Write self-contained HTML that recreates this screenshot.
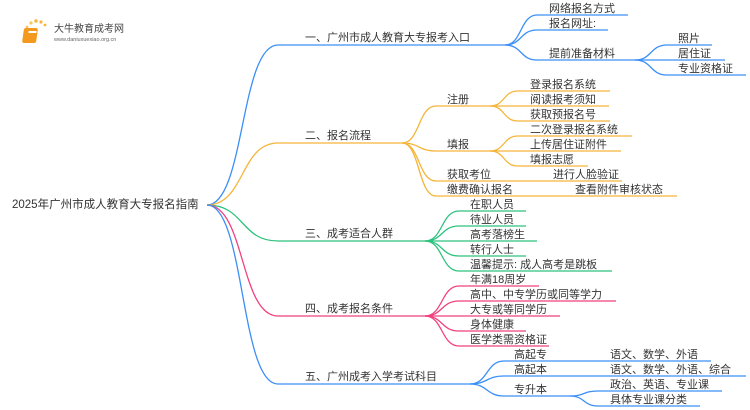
<!DOCTYPE html>
<html><head><meta charset="utf-8"><style>
html,body{margin:0;padding:0;background:#fff;}
svg{display:block;}
text{font-family:"Liberation Sans","Noto Sans CJK SC",sans-serif;font-size:11px;fill:#333;}
path{fill:none;stroke-width:1.3;}
</style></head><body>
<svg width="750" height="410" viewBox="0 0 750 410" xmlns="http://www.w3.org/2000/svg">
<!-- logo -->
<g>
<circle cx="25" cy="33" r="1.2" fill="#f7c75a"/><circle cx="27" cy="27" r="1.4" fill="#f7c75a"/><circle cx="31" cy="23" r="1.6" fill="#f7c75a"/><circle cx="36" cy="21" r="1.7" fill="#f5b53a"/><circle cx="41" cy="22" r="1.6" fill="#f5b53a"/><circle cx="45" cy="25" r="1.4" fill="#f5b53a"/>
<rect x="28" y="28" width="14" height="15" rx="2" fill="#f39a1e" transform="skewX(-8)"/>
<rect x="33" y="31" width="8" height="2" fill="#fff" transform="skewX(-8)"/>
<text x="54" y="32" style="font-size:10px;fill:#444">大牛教育成考网</text>
<text x="54" y="41" style="font-size:5.5px;fill:#666">www.daniuxuexiao.org.cn</text>
</g>
<text x="12" y="208" style="font-size:11.5px">2025年广州市成人教育大专报名指南</text>
<!-- level1 -->
<path stroke="#3a8ff7" d="M207 205 C245 205,240 45,278 45 H505"/>
<path stroke="#f5b53a" d="M207 205 C245 205,240 143,278 143 H402"/>
<path stroke="#2ec27e" d="M207 205 C245 205,240 241,278 241 H425"/>
<path stroke="#f0417f" d="M207 205 C245 205,240 316,278 316 H425"/>
<path stroke="#3a8ff7" d="M207 205 C245 205,240 384,278 384 H470"/>
<text x="305" y="41">一、广州市成人教育大专报考入口</text>
<text x="305" y="139">二、报名流程</text>
<text x="305" y="237">三、成考适合人群</text>
<text x="305" y="312">四、成考报名条件</text>
<text x="305" y="380">五、广州成考入学考试科目</text>
<!-- group1 -->
<g stroke="#3a8ff7">
<path d="M505 45 C522 45,520 15,537 15 H628"/>
<path d="M505 45 C522 45,520 30,537 30 H608"/>
<path d="M505 45 C522 45,520 60,537 60 H635"/>
<path d="M635 60 C652 60,650 45,667 45 H712"/>
<path d="M635 60 C652 60,650 60,667 60 H725"/>
<path d="M635 60 C652 60,650 75,667 75 H746"/>
</g>
<text x="549" y="12">网络报名方式</text>
<text x="549" y="27">报名网址:</text>
<text x="549" y="57">提前准备材料</text>
<text x="678" y="42">照片</text>
<text x="678" y="57">居住证</text>
<text x="678" y="72">专业资格证</text>
<!-- group2 -->
<g stroke="#f5b53a">
<path d="M402 143 C420 143,418 106,436 106 H490"/>
<path d="M402 143 C420 143,418 151,436 151 H490"/>
<path d="M402 143 C420 143,418 181,436 181 H622"/>
<path d="M402 143 C420 143,418 196,436 196 H677"/>
<path d="M490 106 C505 106,503 91,518 91 H610"/>
<path d="M490 106 C505 106,503 106,518 106 H609"/>
<path d="M490 106 C505 106,503 121,518 121 H610"/>
<path d="M490 151 C505 151,503 136,518 136 H632"/>
<path d="M490 151 C505 151,503 151,518 151 H621"/>
<path d="M490 151 C505 151,503 166,518 166 H588"/>
</g>
<text x="447" y="103">注册</text>
<text x="447" y="148">填报</text>
<text x="447" y="178">获取考位</text>
<text x="447" y="193">缴费确认报名</text>
<text x="530" y="88">登录报名系统</text>
<text x="530" y="103">阅读报考须知</text>
<text x="530" y="118">获取预报名号</text>
<text x="530" y="133">二次登录报名系统</text>
<text x="530" y="148">上传居住证附件</text>
<text x="530" y="163">填报志愿</text>
<text x="553" y="178">进行人脸验证</text>
<text x="575" y="193">查看附件审核状态</text>
<!-- group3 -->
<g stroke="#2ec27e">
<path d="M425 241 C443 241,441 211,459 211 H526"/>
<path d="M425 241 C443 241,441 226,459 226 H526"/>
<path d="M425 241 C443 241,441 241,459 241 H537"/>
<path d="M425 241 C443 241,441 256,459 256 H526"/>
<path d="M425 241 C443 241,441 271,459 271 H612"/>
</g>
<text x="470" y="208">在职人员</text>
<text x="470" y="223">待业人员</text>
<text x="470" y="238">高考落榜生</text>
<text x="470" y="253">转行人士</text>
<text x="470" y="268">温馨提示: 成人高考是跳板</text>
<!-- group4 -->
<g stroke="#f0417f">
<path d="M425 316 C443 316,441 286,459 286 H539"/>
<path d="M425 316 C443 316,441 301,459 301 H616"/>
<path d="M425 316 C443 316,441 316,459 316 H560"/>
<path d="M425 316 C443 316,441 331,459 331 H526"/>
<path d="M425 316 C443 316,441 346,459 346 H549"/>
</g>
<text x="470" y="283">年满18周岁</text>
<text x="470" y="298">高中、中专学历或同等学力</text>
<text x="470" y="313">大专或等同学历</text>
<text x="470" y="328">身体健康</text>
<text x="470" y="343">医学类需资格证</text>
<!-- group5 -->
<g stroke="#3a8ff7">
<path d="M470 384 C488 384,486 361,504 361 H711"/>
<path d="M470 384 C488 384,486 376,504 376 H746"/>
<path d="M470 384 C488 384,486 396,504 396 H570"/>
<path d="M570 396 C585 396,583 391,598 391 H722"/>
<path d="M570 396 C585 396,583 406,598 406 H700"/>
</g>
<text x="514" y="358">高起专</text>
<text x="514" y="373">高起本</text>
<text x="514" y="393">专升本</text>
<text x="610" y="358">语文、数学、外语</text>
<text x="610" y="373">语文、数学、外语、综合</text>
<text x="610" y="388">政治、英语、专业课</text>
<text x="610" y="403">具体专业课分类</text>
</svg>
</body></html>
